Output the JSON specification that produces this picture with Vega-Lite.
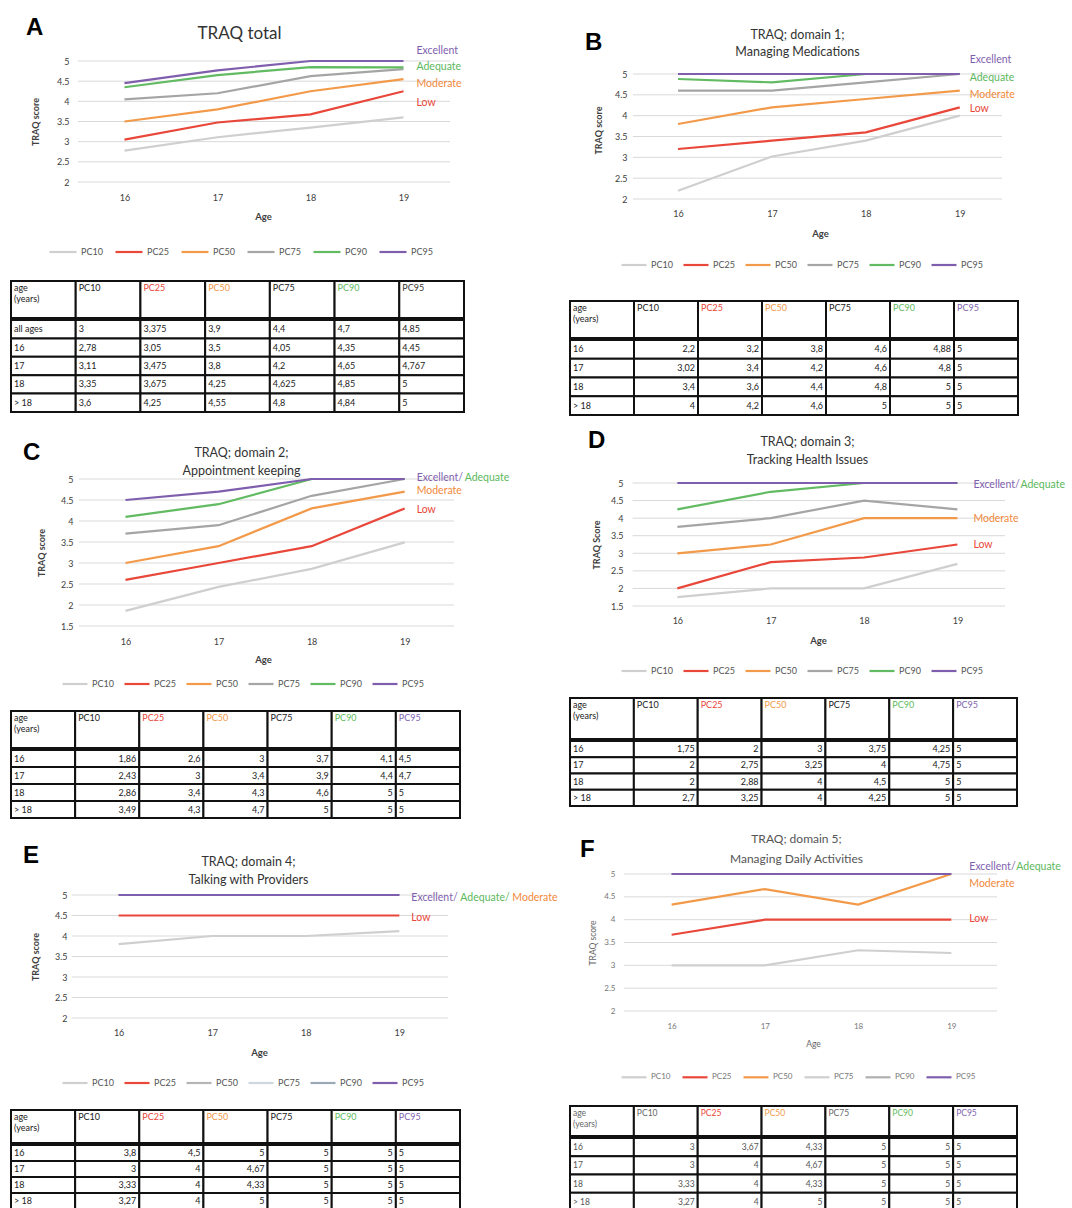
{
"$schema": "https://vega.github.io/schema/vega-lite/v6.json",
"background": "white",
"padding": {"left": 10, "top": 16, "right": 0, "bottom": 0},
"config": {"view": {"stroke": null}, "font": "Lato", "text": {"font": "Lato"}, "axis": {"labelFont": "Lato", "titleFont": "Lato", "labelColor": "#404040", "titleColor": "#404040"}, "legend": {"labelFont": "Lato"}},
"datasets": {
"lines": [
{"p":"A","age":16,"PC10":2.78,"PC25":3.05,"PC50":3.5,"PC75":4.05,"PC90":4.35,"PC95":4.45},
{"p":"A","age":17,"PC10":3.11,"PC25":3.475,"PC50":3.8,"PC75":4.2,"PC90":4.65,"PC95":4.767},
{"p":"A","age":18,"PC10":3.35,"PC25":3.675,"PC50":4.25,"PC75":4.625,"PC90":4.85,"PC95":5},
{"p":"A","age":19,"PC10":3.6,"PC25":4.25,"PC50":4.55,"PC75":4.8,"PC90":4.84,"PC95":5},
{"p":"B","age":16,"PC10":2.2,"PC25":3.2,"PC50":3.8,"PC75":4.6,"PC90":4.88,"PC95":5},
{"p":"B","age":17,"PC10":3.02,"PC25":3.4,"PC50":4.2,"PC75":4.6,"PC90":4.8,"PC95":5},
{"p":"B","age":18,"PC10":3.4,"PC25":3.6,"PC50":4.4,"PC75":4.8,"PC90":5,"PC95":5},
{"p":"B","age":19,"PC10":4,"PC25":4.2,"PC50":4.6,"PC75":5,"PC90":5,"PC95":5},
{"p":"C","age":16,"PC10":1.86,"PC25":2.6,"PC50":3,"PC75":3.7,"PC90":4.1,"PC95":4.5},
{"p":"C","age":17,"PC10":2.43,"PC25":3,"PC50":3.4,"PC75":3.9,"PC90":4.4,"PC95":4.7},
{"p":"C","age":18,"PC10":2.86,"PC25":3.4,"PC50":4.3,"PC75":4.6,"PC90":5,"PC95":5},
{"p":"C","age":19,"PC10":3.49,"PC25":4.3,"PC50":4.7,"PC75":5,"PC90":5,"PC95":5},
{"p":"D","age":16,"PC10":1.75,"PC25":2,"PC50":3,"PC75":3.75,"PC90":4.25,"PC95":5},
{"p":"D","age":17,"PC10":2,"PC25":2.75,"PC50":3.25,"PC75":4,"PC90":4.75,"PC95":5},
{"p":"D","age":18,"PC10":2,"PC25":2.88,"PC50":4,"PC75":4.5,"PC90":5,"PC95":5},
{"p":"D","age":19,"PC10":2.7,"PC25":3.25,"PC50":4,"PC75":4.25,"PC90":5,"PC95":5},
{"p":"E","age":16,"PC10":3.8,"PC25":4.5,"PC50":5,"PC75":5,"PC90":5,"PC95":5},
{"p":"E","age":17,"PC10":4,"PC25":4.5,"PC50":5,"PC75":5,"PC90":5,"PC95":5},
{"p":"E","age":18,"PC10":4,"PC25":4.5,"PC50":5,"PC75":5,"PC90":5,"PC95":5},
{"p":"E","age":19,"PC10":4.12,"PC25":4.5,"PC50":5,"PC75":5,"PC90":5,"PC95":5},
{"p":"F","age":16,"PC10":3,"PC25":3.67,"PC50":4.33,"PC75":5,"PC90":5,"PC95":5},
{"p":"F","age":17,"PC10":3,"PC25":4,"PC50":4.67,"PC75":5,"PC90":5,"PC95":5},
{"p":"F","age":18,"PC10":3.33,"PC25":4,"PC50":4.33,"PC75":5,"PC90":5,"PC95":5},
{"p":"F","age":19,"PC10":3.27,"PC25":4,"PC50":5,"PC75":5,"PC90":5,"PC95":5}
],
"grid": [{"g":1.5},{"g":2},{"g":2.5},{"g":3},{"g":3.5},{"g":4},{"g":4.5},{"g":5}],
"labels": [
{"p":"A","k":1,"t":"Excellent","v":5.25,"pc":"PC95"},
{"p":"A","k":1,"t":"Adequate","v":4.86,"pc":"PC90"},
{"p":"A","k":1,"t":"Moderate","v":4.43,"pc":"PC50"},
{"p":"A","k":1,"t":"Low","v":3.97,"pc":"PC25"},
{"p":"B","k":1,"t":"Excellent","v":5.34,"pc":"PC95"},
{"p":"B","k":1,"t":"Adequate","v":4.9,"pc":"PC90"},
{"p":"B","k":1,"t":"Moderate","v":4.5,"pc":"PC50"},
{"p":"B","k":1,"t":"Low","v":4.16,"pc":"PC25"},
{"p":"C","k":1,"t":"Excellent/","v":5.02,"pc":"PC95"},
{"p":"C","k":2,"t":"Adequate","v":5.02,"pc":"PC90"},
{"p":"C","k":1,"t":"Moderate","v":4.71,"pc":"PC50"},
{"p":"C","k":1,"t":"Low","v":4.26,"pc":"PC25"},
{"p":"D","k":1,"t":"Excellent/","v":4.94,"pc":"PC95"},
{"p":"D","k":2,"t":"Adequate","v":4.94,"pc":"PC90"},
{"p":"D","k":1,"t":"Moderate","v":3.97,"pc":"PC50"},
{"p":"D","k":1,"t":"Low","v":3.23,"pc":"PC25"},
{"p":"E","k":1,"t":"Excellent/","v":4.93,"pc":"PC95"},
{"p":"E","k":2,"t":"Adequate/","v":4.93,"pc":"PC90"},
{"p":"E","k":3,"t":"Moderate","v":4.93,"pc":"PC50"},
{"p":"E","k":1,"t":"Low","v":4.44,"pc":"PC25"},
{"p":"F","k":1,"t":"Excellent/","v":5.15,"pc":"PC95"},
{"p":"F","k":2,"t":"Adequate","v":5.15,"pc":"PC90"},
{"p":"F","k":1,"t":"Moderate","v":4.78,"pc":"PC50"},
{"p":"F","k":1,"t":"Low","v":4.02,"pc":"PC25"}
],
"thead": [{"age":"age (years)","PC10":"PC10","PC25":"PC25","PC50":"PC50","PC75":"PC75","PC90":"PC90","PC95":"PC95"}],
"tbody": [
{"p":"A","age":"all ages","PC10":"3","PC25":"3,375","PC50":"3,9","PC75":"4,4","PC90":"4,7","PC95":"4,85"},
{"p":"A","age":"16","PC10":"2,78","PC25":"3,05","PC50":"3,5","PC75":"4,05","PC90":"4,35","PC95":"4,45"},
{"p":"A","age":"17","PC10":"3,11","PC25":"3,475","PC50":"3,8","PC75":"4,2","PC90":"4,65","PC95":"4,767"},
{"p":"A","age":"18","PC10":"3,35","PC25":"3,675","PC50":"4,25","PC75":"4,625","PC90":"4,85","PC95":"5"},
{"p":"A","age":"> 18","PC10":"3,6","PC25":"4,25","PC50":"4,55","PC75":"4,8","PC90":"4,84","PC95":"5"},
{"p":"B","age":"16","PC10":"2,2","PC25":"3,2","PC50":"3,8","PC75":"4,6","PC90":"4,88","PC95":"5"},
{"p":"B","age":"17","PC10":"3,02","PC25":"3,4","PC50":"4,2","PC75":"4,6","PC90":"4,8","PC95":"5"},
{"p":"B","age":"18","PC10":"3,4","PC25":"3,6","PC50":"4,4","PC75":"4,8","PC90":"5","PC95":"5"},
{"p":"B","age":"> 18","PC10":"4","PC25":"4,2","PC50":"4,6","PC75":"5","PC90":"5","PC95":"5"},
{"p":"C","age":"16","PC10":"1,86","PC25":"2,6","PC50":"3","PC75":"3,7","PC90":"4,1","PC95":"4,5"},
{"p":"C","age":"17","PC10":"2,43","PC25":"3","PC50":"3,4","PC75":"3,9","PC90":"4,4","PC95":"4,7"},
{"p":"C","age":"18","PC10":"2,86","PC25":"3,4","PC50":"4,3","PC75":"4,6","PC90":"5","PC95":"5"},
{"p":"C","age":"> 18","PC10":"3,49","PC25":"4,3","PC50":"4,7","PC75":"5","PC90":"5","PC95":"5"},
{"p":"D","age":"16","PC10":"1,75","PC25":"2","PC50":"3","PC75":"3,75","PC90":"4,25","PC95":"5"},
{"p":"D","age":"17","PC10":"2","PC25":"2,75","PC50":"3,25","PC75":"4","PC90":"4,75","PC95":"5"},
{"p":"D","age":"18","PC10":"2","PC25":"2,88","PC50":"4","PC75":"4,5","PC90":"5","PC95":"5"},
{"p":"D","age":"> 18","PC10":"2,7","PC25":"3,25","PC50":"4","PC75":"4,25","PC90":"5","PC95":"5"},
{"p":"E","age":"16","PC10":"3,8","PC25":"4,5","PC50":"5","PC75":"5","PC90":"5","PC95":"5"},
{"p":"E","age":"17","PC10":"3","PC25":"4","PC50":"4,67","PC75":"5","PC90":"5","PC95":"5"},
{"p":"E","age":"18","PC10":"3,33","PC25":"4","PC50":"4,33","PC75":"5","PC90":"5","PC95":"5"},
{"p":"E","age":"> 18","PC10":"3,27","PC25":"4","PC50":"5","PC75":"5","PC90":"5","PC95":"5"},
{"p":"F","age":"16","PC10":"3","PC25":"3,67","PC50":"4,33","PC75":"5","PC90":"5","PC95":"5"},
{"p":"F","age":"17","PC10":"3","PC25":"4","PC50":"4,67","PC75":"5","PC90":"5","PC95":"5"},
{"p":"F","age":"18","PC10":"3,33","PC25":"4","PC50":"4,33","PC75":"5","PC90":"5","PC95":"5"},
{"p":"F","age":"> 18","PC10":"3,27","PC25":"4","PC50":"5","PC75":"5","PC90":"5","PC95":"5"}
]
},
"columns": 2,
"align": "none",
"spacing": 11,
"resolve": {"scale": {"color": "independent", "fill": "independent"}, "legend": {"color": "independent", "fill": "independent"}},
"concat": [
{
"spacing": 28,
"resolve": {"scale": {"color": "independent", "fill": "independent"}, "legend": {"color": "independent", "fill": "independent"}},
"vconcat": [
{
"spacing": 23,
"resolve": {"scale": {"color": "independent", "fill": "independent"}, "legend": {"color": "independent", "fill": "independent"}},
"vconcat": [
{
"width": 439, "height": 121,
"title": {"text": "A", "anchor": "start", "frame": "group", "dx": 15, "offset": -16, "fontSize": 24, "fontWeight": "bold", "font": "Liberation Sans", "color": "#000"},
"resolve": {"axis": {"x": "independent"}},
"layer": [
{"data": {"name": "grid"}, "transform": [{"filter": "datum.g >= 2"}], "mark": {"type": "rule", "color": "#d9d9d9", "strokeWidth": 1},
"encoding": {
"y": {"field": "g", "type": "quantitative", "scale": {"domain": [2, 5], "nice": false, "zero": false}, "axis": {"orient": "left", "values": [2, 2.5, 3, 3.5, 4, 4.5, 5], "format": "~g", "offset": -60, "labelPadding": 2, "ticks": false, "domain": false, "grid": false, "minExtent": 0, "labelFontSize": 9, "labelFlush": false, "labelOverlap": false, "title": "TRAQ score", "titleFontSize": 9, "titleFontWeight": "bold", "titlePadding": 15.5}},
"x": {"datum": 15.5, "type": "quantitative", "scale": {"domain": [14.78, 19.5], "nice": false, "zero": false}, "axis": null},
"x2": {"datum": 19.5}}},
{"data": {"name": "lines"}, "transform": [{"filter": "datum.p === 'A'"}, {"fold": ["PC10", "PC25", "PC50", "PC75", "PC90", "PC95"], "as": ["pc", "v"]}], "mark": {"type": "line", "strokeWidth": 2.2},
"encoding": {
"x": {"field": "age", "type": "quantitative", "scale": {"domain": [14.78, 19.5], "nice": false, "zero": false}, "axis": {"orient": "bottom", "values": [16, 17, 18, 19], "format": "d", "ticks": false, "domain": false, "grid": false, "labelFontSize": 9, "labelPadding": 11, "labelFlush": false, "title": "Age", "titleFontSize": 9.5, "titleFontWeight": "bold", "titlePadding": 9, "titleX": 252}},
"y": {"field": "v", "type": "quantitative", "scale": {"domain": [2, 5], "nice": false, "zero": false}, "axis": {"orient": "left", "values": [2, 2.5, 3, 3.5, 4, 4.5, 5], "format": "~g", "offset": -60, "labelPadding": 2, "ticks": false, "domain": false, "grid": false, "minExtent": 0, "labelFontSize": 9, "labelFlush": false, "labelOverlap": false, "title": "TRAQ score", "titleFontSize": 9, "titleFontWeight": "bold", "titlePadding": 15.5}},
"color": {"field": "pc", "type": "nominal", "scale": {"domain": ["PC10", "PC25", "PC50", "PC75", "PC90", "PC95"], "range": ["#cfcfcf", "#e8473a", "#f29a4a", "#a5a5a5", "#62bb62", "#7f5fad"]}, "legend": {"orient": "none", "legendX": 37, "legendY": 176, "direction": "horizontal", "columns": 6, "title": null, "symbolType": "stroke", "symbolSize": 729, "symbolStrokeWidth": 2.2, "labelFontSize": 9, "labelOffset": 3, "columnPadding": 8, "padding": 0, "labelColor": "#555"}}}},
{"data": {"name": "labels"}, "transform": [{"filter": "datum.p === 'A'"}], "mark": {"type": "text", "align": "left", "baseline": "middle", "dx": 13, "fontSize": 10.5},
"encoding": {
"x": {"datum": 19, "type": "quantitative", "scale": {"domain": [14.78, 19.5], "nice": false, "zero": false}, "axis": {"orient": "top", "labels": false, "ticks": false, "domain": false, "grid": false, "title": "TRAQ total", "titleFontSize": 17, "titleFontWeight": "normal", "titlePadding": 19, "titleX": 228, "titleColor": "#333"}},
"y": {"field": "v", "type": "quantitative", "scale": {"domain": [2, 5], "nice": false, "zero": false}, "axis": {"orient": "left", "values": [2, 2.5, 3, 3.5, 4, 4.5, 5], "format": "~g", "offset": -60, "labelPadding": 2, "ticks": false, "domain": false, "grid": false, "minExtent": 0, "labelFontSize": 9, "labelFlush": false, "labelOverlap": false, "title": "TRAQ score", "titleFontSize": 9, "titleFontWeight": "bold", "titlePadding": 15.5}},
"text": {"field": "t"},
"fill": {"field": "pc", "type": "nominal", "scale": {"domain": ["PC25", "PC50", "PC90", "PC95"], "range": ["#e8473a", "#f0883a", "#5cb85c", "#7f5fad"]}, "legend": null}}}
]
},
{
"spacing": 0,
"resolve": {"scale": {"color": "independent", "fill": "independent"}, "legend": {"color": "independent", "fill": "independent"}},
"vconcat": [
{"width": 453, "height": 37, "data": {"name": "thead"}, "transform": [{"fold": ["age", "PC10", "PC25", "PC50", "PC75", "PC90", "PC95"], "as": ["col", "val"]}],
"layer": [
{"mark": {"type": "rect", "fill": "white", "stroke": "#111", "strokeWidth": 2}, "encoding": {"x": {"field": "col", "type": "nominal", "sort": ["age", "PC10", "PC25", "PC50", "PC75", "PC90", "PC95"], "axis": null, "scale": {"paddingInner": 0, "paddingOuter": 0}}, "y": {"field": "age", "type": "nominal", "axis": null, "scale": {"paddingInner": 0, "paddingOuter": 0}}}},
{"mark": {"type": "text", "align": "left", "baseline": "top", "dx": 3, "dy": 3, "fontSize": 9, "lineBreak": " "}, "encoding": {"x": {"field": "col", "type": "nominal", "sort": ["age", "PC10", "PC25", "PC50", "PC75", "PC90", "PC95"], "axis": null, "bandPosition": 0}, "y": {"field": "age", "type": "nominal", "axis": null, "bandPosition": 0}, "text": {"field": "val"}, "color": {"field": "col", "type": "nominal", "scale": {"domain": ["age", "PC10", "PC25", "PC50", "PC75", "PC90", "PC95"], "range": ["#222", "#222", "#e8473a", "#f29a4a", "#222", "#62bb62", "#333"]}, "legend": null}}}
]},
{"width": 453, "height": 92, "data": {"name": "tbody"}, "transform": [{"filter": "datum.p === 'A'"}, {"fold": ["age", "PC10", "PC25", "PC50", "PC75", "PC90", "PC95"], "as": ["col", "val"]}],
"layer": [
{"mark": {"type": "rect", "fill": "white", "stroke": "#111", "strokeWidth": 2}, "encoding": {"x": {"field": "col", "type": "nominal", "sort": ["age", "PC10", "PC25", "PC50", "PC75", "PC90", "PC95"], "axis": null, "scale": {"paddingInner": 0, "paddingOuter": 0}}, "y": {"field": "age", "type": "nominal", "sort": ["all ages", "16", "17", "18", "> 18"], "axis": null, "scale": {"paddingInner": 0, "paddingOuter": 0}}}},
{"mark": {"type": "text", "align": "left", "baseline": "middle", "dx": 3, "fontSize": 9, "color": "#222"}, "encoding": {"x": {"field": "col", "type": "nominal", "sort": ["age", "PC10", "PC25", "PC50", "PC75", "PC90", "PC95"], "axis": null, "bandPosition": 0}, "y": {"field": "age", "type": "nominal", "sort": ["all ages", "16", "17", "18", "> 18"], "axis": null, "bandPosition": 0.5}, "text": {"field": "val"}}}
]}
]
}
]
},
{
"spacing": 25,
"resolve": {"scale": {"color": "independent", "fill": "independent"}, "legend": {"color": "independent", "fill": "independent"}},
"vconcat": [
{
"spacing": 21,
"resolve": {"scale": {"color": "independent", "fill": "independent"}, "legend": {"color": "independent", "fill": "independent"}},
"vconcat": [
{
"width": 443, "height": 147,
"title": {"text": "C", "anchor": "start", "frame": "group", "dx": 12, "offset": -19, "fontSize": 24, "fontWeight": "bold", "font": "Liberation Sans", "color": "#000"},
"resolve": {"axis": {"x": "independent"}},
"layer": [
{"data": {"name": "grid"}, "mark": {"type": "rule", "color": "#d9d9d9", "strokeWidth": 1},
"encoding": {
"y": {"field": "g", "type": "quantitative", "scale": {"domain": [1.5, 5], "nice": false, "zero": false}, "axis": {"orient": "left", "values": [1.5, 2, 2.5, 3, 3.5, 4, 4.5, 5], "format": "~g", "offset": -64, "labelPadding": 2, "ticks": false, "domain": false, "grid": false, "minExtent": 0, "labelFontSize": 9, "labelFlush": false, "labelOverlap": false, "title": "TRAQ score", "titleFontSize": 9, "titleFontWeight": "bold", "titlePadding": 13.5}},
"x": {"datum": 15.5, "type": "quantitative", "scale": {"domain": [14.77, 19.53], "nice": false, "zero": false}, "axis": null},
"x2": {"datum": 19.53}}},
{"data": {"name": "lines"}, "transform": [{"filter": "datum.p === 'C'"}, {"fold": ["PC10", "PC25", "PC50", "PC75", "PC90", "PC95"], "as": ["pc", "v"]}], "mark": {"type": "line", "strokeWidth": 2.2},
"encoding": {
"x": {"field": "age", "type": "quantitative", "scale": {"domain": [14.77, 19.53], "nice": false, "zero": false}, "axis": {"orient": "bottom", "values": [16, 17, 18, 19], "format": "d", "ticks": false, "domain": false, "grid": false, "labelFontSize": 9, "labelPadding": 11, "labelFlush": false, "title": "Age", "titleFontSize": 9.5, "titleFontWeight": "bold", "titlePadding": 8, "titleX": 252}},
"y": {"field": "v", "type": "quantitative", "scale": {"domain": [1.5, 5], "nice": false, "zero": false}, "axis": {"orient": "left", "values": [1.5, 2, 2.5, 3, 3.5, 4, 4.5, 5], "format": "~g", "offset": -64, "labelPadding": 2, "ticks": false, "domain": false, "grid": false, "minExtent": 0, "labelFontSize": 9, "labelFlush": false, "labelOverlap": false, "title": "TRAQ score", "titleFontSize": 9, "titleFontWeight": "bold", "titlePadding": 13.5}},
"color": {"field": "pc", "type": "nominal", "scale": {"domain": ["PC10", "PC25", "PC50", "PC75", "PC90", "PC95"], "range": ["#cfcfcf", "#e8473a", "#f29a4a", "#a5a5a5", "#62bb62", "#7f5fad"]}, "legend": {"orient": "none", "legendX": 50, "legendY": 191, "direction": "horizontal", "columns": 6, "title": null, "symbolType": "stroke", "symbolSize": 625, "symbolStrokeWidth": 2.2, "labelFontSize": 9, "labelOffset": 3, "columnPadding": 6, "padding": 0, "labelColor": "#555"}}}},
{"data": {"name": "labels"}, "transform": [{"filter": "datum.p === 'C' && datum.k === 1"}], "mark": {"type": "text", "align": "left", "baseline": "middle", "dx": 12, "fontSize": 10.5},
"encoding": {
"x": {"datum": 19, "type": "quantitative", "scale": {"domain": [14.77, 19.53], "nice": false, "zero": false}, "axis": {"orient": "top", "labels": false, "ticks": false, "domain": false, "grid": false, "title": ["TRAQ; domain 2;", "Appointment keeping"], "titleFontSize": 12.5, "titleLineHeight": 18, "titleFontWeight": "normal", "titlePadding": 2, "titleX": 230, "titleColor": "#333"}},
"y": {"field": "v", "type": "quantitative", "scale": {"domain": [1.5, 5], "nice": false, "zero": false}, "axis": {"orient": "left", "values": [1.5, 2, 2.5, 3, 3.5, 4, 4.5, 5], "format": "~g", "offset": -64, "labelPadding": 2, "ticks": false, "domain": false, "grid": false, "minExtent": 0, "labelFontSize": 9, "labelFlush": false, "labelOverlap": false, "title": "TRAQ score", "titleFontSize": 9, "titleFontWeight": "bold", "titlePadding": 13.5}},
"text": {"field": "t"},
"fill": {"field": "pc", "type": "nominal", "scale": {"domain": ["PC25", "PC50", "PC90", "PC95"], "range": ["#e8473a", "#f0883a", "#5cb85c", "#7f5fad"]}, "legend": null}}},
{"data": {"name": "labels"}, "transform": [{"filter": "datum.p === 'C' && datum.k === 2"}], "mark": {"type": "text", "align": "left", "baseline": "middle", "dx": 60, "fontSize": 10.5},
"encoding": {
"x": {"datum": 19, "type": "quantitative", "scale": {"domain": [14.77, 19.53], "nice": false, "zero": false}, "axis": null},
"y": {"field": "v", "type": "quantitative", "scale": {"domain": [1.5, 5], "nice": false, "zero": false}, "axis": {"orient": "left", "values": [1.5, 2, 2.5, 3, 3.5, 4, 4.5, 5], "format": "~g", "offset": -64, "labelPadding": 2, "ticks": false, "domain": false, "grid": false, "minExtent": 0, "labelFontSize": 9, "labelFlush": false, "labelOverlap": false, "title": "TRAQ score", "titleFontSize": 9, "titleFontWeight": "bold", "titlePadding": 13.5}},
"text": {"field": "t"},
"fill": {"field": "pc", "type": "nominal", "scale": {"domain": ["PC25", "PC50", "PC90", "PC95"], "range": ["#e8473a", "#f0883a", "#5cb85c", "#7f5fad"]}, "legend": null}}}
]
},
{
"spacing": 0,
"resolve": {"scale": {"color": "independent", "fill": "independent"}, "legend": {"color": "independent", "fill": "independent"}},
"vconcat": [
{"width": 449, "height": 37, "data": {"name": "thead"}, "transform": [{"fold": ["age", "PC10", "PC25", "PC50", "PC75", "PC90", "PC95"], "as": ["col", "val"]}],
"layer": [
{"mark": {"type": "rect", "fill": "white", "stroke": "#111", "strokeWidth": 2}, "encoding": {"x": {"field": "col", "type": "nominal", "sort": ["age", "PC10", "PC25", "PC50", "PC75", "PC90", "PC95"], "axis": null, "scale": {"paddingInner": 0, "paddingOuter": 0}}, "y": {"field": "age", "type": "nominal", "axis": null, "scale": {"paddingInner": 0, "paddingOuter": 0}}}},
{"mark": {"type": "text", "align": "left", "baseline": "top", "dx": 3, "dy": 3, "fontSize": 9, "lineBreak": " "}, "encoding": {"x": {"field": "col", "type": "nominal", "sort": ["age", "PC10", "PC25", "PC50", "PC75", "PC90", "PC95"], "axis": null, "bandPosition": 0}, "y": {"field": "age", "type": "nominal", "axis": null, "bandPosition": 0}, "text": {"field": "val"}, "color": {"field": "col", "type": "nominal", "scale": {"domain": ["age", "PC10", "PC25", "PC50", "PC75", "PC90", "PC95"], "range": ["#222", "#222", "#e8473a", "#f29a4a", "#222", "#62bb62", "#8064b0"]}, "legend": null}}}
]},
{"width": 449, "height": 68, "data": {"name": "tbody"}, "transform": [{"filter": "datum.p === 'C'"}, {"fold": ["age", "PC10", "PC25", "PC50", "PC75", "PC90", "PC95"], "as": ["col", "val"]}],
"layer": [
{"mark": {"type": "rect", "fill": "white", "stroke": "#111", "strokeWidth": 2}, "encoding": {"x": {"field": "col", "type": "nominal", "sort": ["age", "PC10", "PC25", "PC50", "PC75", "PC90", "PC95"], "axis": null, "scale": {"paddingInner": 0, "paddingOuter": 0}}, "y": {"field": "age", "type": "nominal", "sort": ["16", "17", "18", "> 18"], "axis": null, "scale": {"paddingInner": 0, "paddingOuter": 0}}}},
{"transform": [{"filter": "datum.col === 'age' || datum.col === 'PC95'"}], "mark": {"type": "text", "align": "left", "baseline": "middle", "dx": 3, "fontSize": 9, "color": "#222"}, "encoding": {"x": {"field": "col", "type": "nominal", "sort": ["age", "PC10", "PC25", "PC50", "PC75", "PC90", "PC95"], "axis": null, "bandPosition": 0}, "y": {"field": "age", "type": "nominal", "sort": ["16", "17", "18", "> 18"], "axis": null, "bandPosition": 0.5}, "text": {"field": "val"}}},
{"transform": [{"filter": "datum.col !== 'age' && datum.col !== 'PC95'"}], "mark": {"type": "text", "align": "right", "baseline": "middle", "dx": -3, "fontSize": 9, "color": "#222"}, "encoding": {"x": {"field": "col", "type": "nominal", "sort": ["age", "PC10", "PC25", "PC50", "PC75", "PC90", "PC95"], "axis": null, "bandPosition": 1}, "y": {"field": "age", "type": "nominal", "sort": ["16", "17", "18", "> 18"], "axis": null, "bandPosition": 0.5}, "text": {"field": "val"}}}
]}
]
}
]
},
{
"spacing": 21,
"resolve": {"scale": {"color": "independent", "fill": "independent"}, "legend": {"color": "independent", "fill": "independent"}},
"vconcat": [
{
"width": 437, "height": 123,
"title": {"text": "E", "anchor": "start", "frame": "group", "dx": 12, "offset": -13, "fontSize": 24, "fontWeight": "bold", "font": "Liberation Sans", "color": "#000"},
"resolve": {"axis": {"x": "independent"}},
"layer": [
{"data": {"name": "grid"}, "transform": [{"filter": "datum.g >= 2"}], "mark": {"type": "rule", "color": "#d9d9d9", "strokeWidth": 1},
"encoding": {
"y": {"field": "g", "type": "quantitative", "scale": {"domain": [2, 5], "nice": false, "zero": false}, "axis": {"orient": "left", "values": [2, 2.5, 3, 3.5, 4, 4.5, 5], "format": "~g", "offset": -58, "labelPadding": 2, "ticks": false, "domain": false, "grid": false, "minExtent": 0, "labelFontSize": 9, "labelFlush": false, "labelOverlap": false, "title": "TRAQ score", "titleFontSize": 9, "titleFontWeight": "bold", "titlePadding": 13.5}},
"x": {"datum": 15.5, "type": "quantitative", "scale": {"domain": [14.85, 19.52], "nice": false, "zero": false}, "axis": null},
"x2": {"datum": 19.52}}},
{"data": {"name": "lines"}, "transform": [{"filter": "datum.p === 'E'"}, {"fold": ["PC10", "PC25", "PC50", "PC75", "PC90", "PC95"], "as": ["pc", "v"]}], "mark": {"type": "line", "strokeWidth": 2.2},
"encoding": {
"x": {"field": "age", "type": "quantitative", "scale": {"domain": [14.85, 19.52], "nice": false, "zero": false}, "axis": {"orient": "bottom", "values": [16, 17, 18, 19], "format": "d", "ticks": false, "domain": false, "grid": false, "labelFontSize": 9, "labelPadding": 10, "labelFlush": false, "title": "Age", "titleFontSize": 9.5, "titleFontWeight": "bold", "titlePadding": 10, "titleX": 248}},
"y": {"field": "v", "type": "quantitative", "scale": {"domain": [2, 5], "nice": false, "zero": false}, "axis": {"orient": "left", "values": [2, 2.5, 3, 3.5, 4, 4.5, 5], "format": "~g", "offset": -58, "labelPadding": 2, "ticks": false, "domain": false, "grid": false, "minExtent": 0, "labelFontSize": 9, "labelFlush": false, "labelOverlap": false, "title": "TRAQ score", "titleFontSize": 9, "titleFontWeight": "bold", "titlePadding": 13.5}},
"color": {"field": "pc", "type": "nominal", "scale": {"domain": ["PC10", "PC25", "PC50", "PC75", "PC90", "PC95"], "range": ["#cfcfcf", "#e8473a", "#b5b5b5", "#cfd6dd", "#9aa8b8", "#7f5fad"]}, "legend": {"orient": "none", "legendX": 50, "legendY": 174, "direction": "horizontal", "columns": 6, "title": null, "symbolType": "stroke", "symbolSize": 625, "symbolStrokeWidth": 2.2, "labelFontSize": 9, "labelOffset": 3, "columnPadding": 6, "padding": 0, "labelColor": "#555"}}}},
{"data": {"name": "labels"}, "transform": [{"filter": "datum.p === 'E' && datum.k === 1"}], "mark": {"type": "text", "align": "left", "baseline": "middle", "dx": 12, "fontSize": 10.5},
"encoding": {
"x": {"datum": 19, "type": "quantitative", "scale": {"domain": [14.85, 19.52], "nice": false, "zero": false}, "axis": {"orient": "top", "labels": false, "ticks": false, "domain": false, "grid": false, "title": ["TRAQ; domain 4;", "Talking with Providers"], "titleFontSize": 12.5, "titleLineHeight": 18, "titleFontWeight": "normal", "titlePadding": 9, "titleX": 237, "titleColor": "#333"}},
"y": {"field": "v", "type": "quantitative", "scale": {"domain": [2, 5], "nice": false, "zero": false}, "axis": {"orient": "left", "values": [2, 2.5, 3, 3.5, 4, 4.5, 5], "format": "~g", "offset": -58, "labelPadding": 2, "ticks": false, "domain": false, "grid": false, "minExtent": 0, "labelFontSize": 9, "labelFlush": false, "labelOverlap": false, "title": "TRAQ score", "titleFontSize": 9, "titleFontWeight": "bold", "titlePadding": 13.5}},
"text": {"field": "t"},
"fill": {"field": "pc", "type": "nominal", "scale": {"domain": ["PC25", "PC50", "PC90", "PC95"], "range": ["#e8473a", "#f0883a", "#5cb85c", "#7f5fad"]}, "legend": null}}},
{"data": {"name": "labels"}, "transform": [{"filter": "datum.p === 'E' && datum.k === 2"}], "mark": {"type": "text", "align": "left", "baseline": "middle", "dx": 61, "fontSize": 10.5},
"encoding": {
"x": {"datum": 19, "type": "quantitative", "scale": {"domain": [14.85, 19.52], "nice": false, "zero": false}, "axis": null},
"y": {"field": "v", "type": "quantitative", "scale": {"domain": [2, 5], "nice": false, "zero": false}, "axis": {"orient": "left", "values": [2, 2.5, 3, 3.5, 4, 4.5, 5], "format": "~g", "offset": -58, "labelPadding": 2, "ticks": false, "domain": false, "grid": false, "minExtent": 0, "labelFontSize": 9, "labelFlush": false, "labelOverlap": false, "title": "TRAQ score", "titleFontSize": 9, "titleFontWeight": "bold", "titlePadding": 13.5}},
"text": {"field": "t"},
"fill": {"field": "pc", "type": "nominal", "scale": {"domain": ["PC25", "PC50", "PC90", "PC95"], "range": ["#e8473a", "#f0883a", "#5cb85c", "#7f5fad"]}, "legend": null}}},
{"data": {"name": "labels"}, "transform": [{"filter": "datum.p === 'E' && datum.k === 3"}], "mark": {"type": "text", "align": "left", "baseline": "middle", "dx": 113, "fontSize": 10.5},
"encoding": {
"x": {"datum": 19, "type": "quantitative", "scale": {"domain": [14.85, 19.52], "nice": false, "zero": false}, "axis": null},
"y": {"field": "v", "type": "quantitative", "scale": {"domain": [2, 5], "nice": false, "zero": false}, "axis": {"orient": "left", "values": [2, 2.5, 3, 3.5, 4, 4.5, 5], "format": "~g", "offset": -58, "labelPadding": 2, "ticks": false, "domain": false, "grid": false, "minExtent": 0, "labelFontSize": 9, "labelFlush": false, "labelOverlap": false, "title": "TRAQ score", "titleFontSize": 9, "titleFontWeight": "bold", "titlePadding": 13.5}},
"text": {"field": "t"},
"fill": {"field": "pc", "type": "nominal", "scale": {"domain": ["PC25", "PC50", "PC90", "PC95"], "range": ["#e8473a", "#f0883a", "#5cb85c", "#7f5fad"]}, "legend": null}}}
]
},
{
"spacing": 0,
"resolve": {"scale": {"color": "independent", "fill": "independent"}, "legend": {"color": "independent", "fill": "independent"}},
"vconcat": [
{"width": 449, "height": 33, "data": {"name": "thead"}, "transform": [{"fold": ["age", "PC10", "PC25", "PC50", "PC75", "PC90", "PC95"], "as": ["col", "val"]}],
"layer": [
{"mark": {"type": "rect", "fill": "white", "stroke": "#111", "strokeWidth": 2}, "encoding": {"x": {"field": "col", "type": "nominal", "sort": ["age", "PC10", "PC25", "PC50", "PC75", "PC90", "PC95"], "axis": null, "scale": {"paddingInner": 0, "paddingOuter": 0}}, "y": {"field": "age", "type": "nominal", "axis": null, "scale": {"paddingInner": 0, "paddingOuter": 0}}}},
{"mark": {"type": "text", "align": "left", "baseline": "top", "dx": 3, "dy": 3, "fontSize": 9, "lineBreak": " "}, "encoding": {"x": {"field": "col", "type": "nominal", "sort": ["age", "PC10", "PC25", "PC50", "PC75", "PC90", "PC95"], "axis": null, "bandPosition": 0}, "y": {"field": "age", "type": "nominal", "axis": null, "bandPosition": 0}, "text": {"field": "val"}, "color": {"field": "col", "type": "nominal", "scale": {"domain": ["age", "PC10", "PC25", "PC50", "PC75", "PC90", "PC95"], "range": ["#222", "#222", "#e8473a", "#f29a4a", "#222", "#62bb62", "#8064b0"]}, "legend": null}}}
]},
{"width": 449, "height": 64, "data": {"name": "tbody"}, "transform": [{"filter": "datum.p === 'E'"}, {"fold": ["age", "PC10", "PC25", "PC50", "PC75", "PC90", "PC95"], "as": ["col", "val"]}],
"layer": [
{"mark": {"type": "rect", "fill": "white", "stroke": "#111", "strokeWidth": 2}, "encoding": {"x": {"field": "col", "type": "nominal", "sort": ["age", "PC10", "PC25", "PC50", "PC75", "PC90", "PC95"], "axis": null, "scale": {"paddingInner": 0, "paddingOuter": 0}}, "y": {"field": "age", "type": "nominal", "sort": ["16", "17", "18", "> 18"], "axis": null, "scale": {"paddingInner": 0, "paddingOuter": 0}}}},
{"transform": [{"filter": "datum.col === 'age' || datum.col === 'PC95'"}], "mark": {"type": "text", "align": "left", "baseline": "middle", "dx": 3, "fontSize": 9, "color": "#222"}, "encoding": {"x": {"field": "col", "type": "nominal", "sort": ["age", "PC10", "PC25", "PC50", "PC75", "PC90", "PC95"], "axis": null, "bandPosition": 0}, "y": {"field": "age", "type": "nominal", "sort": ["16", "17", "18", "> 18"], "axis": null, "bandPosition": 0.5}, "text": {"field": "val"}}},
{"transform": [{"filter": "datum.col !== 'age' && datum.col !== 'PC95'"}], "mark": {"type": "text", "align": "right", "baseline": "middle", "dx": -3, "fontSize": 9, "color": "#222"}, "encoding": {"x": {"field": "col", "type": "nominal", "sort": ["age", "PC10", "PC25", "PC50", "PC75", "PC90", "PC95"], "axis": null, "bandPosition": 1}, "y": {"field": "age", "type": "nominal", "sort": ["16", "17", "18", "> 18"], "axis": null, "bandPosition": 0.5}, "text": {"field": "val"}}}
]}
]
}
]
}
]
}
]
},
{
"spacing": 13,
"resolve": {"scale": {"color": "independent", "fill": "independent"}, "legend": {"color": "independent", "fill": "independent"}},
"vconcat": [
{
"spacing": 30,
"resolve": {"scale": {"color": "independent", "fill": "independent"}, "legend": {"color": "independent", "fill": "independent"}},
"vconcat": [
{
"width": 432, "height": 138,
"title": {"text": "B", "anchor": "start", "frame": "group", "dx": 15, "offset": -27, "fontSize": 24, "fontWeight": "bold", "font": "Liberation Sans", "color": "#000"},
"resolve": {"axis": {"x": "independent"}},
"layer": [
{"data": {"name": "grid"}, "transform": [{"filter": "datum.g >= 2"}], "mark": {"type": "rule", "color": "#d9d9d9", "strokeWidth": 1},
"encoding": {
"y": {"field": "g", "type": "quantitative", "scale": {"domain": [2, 5.312], "nice": false, "zero": false}, "axis": {"orient": "left", "values": [2, 2.5, 3, 3.5, 4, 4.5, 5], "format": "~g", "offset": -59, "labelPadding": 2, "ticks": false, "domain": false, "grid": false, "minExtent": 0, "labelFontSize": 9, "labelFlush": false, "labelOverlap": false, "title": "TRAQ score", "titleFontSize": 9, "titleFontWeight": "bold", "titlePadding": 10.5}},
"x": {"datum": 15.52, "type": "quantitative", "scale": {"domain": [14.85, 19.45], "nice": false, "zero": false}, "axis": null},
"x2": {"datum": 19.45}}},
{"data": {"name": "lines"}, "transform": [{"filter": "datum.p === 'B'"}, {"fold": ["PC10", "PC25", "PC50", "PC75", "PC90", "PC95"], "as": ["pc", "v"]}], "mark": {"type": "line", "strokeWidth": 2.2},
"encoding": {
"x": {"field": "age", "type": "quantitative", "scale": {"domain": [14.85, 19.45], "nice": false, "zero": false}, "axis": {"orient": "bottom", "values": [16, 17, 18, 19], "format": "d", "ticks": false, "domain": false, "grid": false, "labelFontSize": 9, "labelPadding": 10, "labelFlush": false, "title": "Age", "titleFontSize": 9.5, "titleFontWeight": "bold", "titlePadding": 10, "titleX": 250}},
"y": {"field": "v", "type": "quantitative", "scale": {"domain": [2, 5.312], "nice": false, "zero": false}, "axis": {"orient": "left", "values": [2, 2.5, 3, 3.5, 4, 4.5, 5], "format": "~g", "offset": -59, "labelPadding": 2, "ticks": false, "domain": false, "grid": false, "minExtent": 0, "labelFontSize": 9, "labelFlush": false, "labelOverlap": false, "title": "TRAQ score", "titleFontSize": 9, "titleFontWeight": "bold", "titlePadding": 10.5}},
"color": {"field": "pc", "type": "nominal", "scale": {"domain": ["PC10", "PC25", "PC50", "PC75", "PC90", "PC95"], "range": ["#cfcfcf", "#e8473a", "#f29a4a", "#a5a5a5", "#62bb62", "#7f5fad"]}, "legend": {"orient": "none", "legendX": 50, "legendY": 190, "direction": "horizontal", "columns": 6, "title": null, "symbolType": "stroke", "symbolSize": 625, "symbolStrokeWidth": 2.2, "labelFontSize": 9, "labelOffset": 3, "columnPadding": 6, "padding": 0, "labelColor": "#555"}}}},
{"data": {"name": "labels"}, "transform": [{"filter": "datum.p === 'B'"}], "mark": {"type": "text", "align": "left", "baseline": "middle", "dx": 10, "fontSize": 10.5},
"encoding": {
"x": {"datum": 19, "type": "quantitative", "scale": {"domain": [14.85, 19.45], "nice": false, "zero": false}, "axis": {"orient": "top", "labels": false, "ticks": false, "domain": false, "grid": false, "title": ["TRAQ; domain 1;", "Managing Medications"], "titleFontSize": 12.5, "titleLineHeight": 17, "titleFontWeight": "normal", "titlePadding": 3, "titleX": 227, "titleColor": "#333"}},
"y": {"field": "v", "type": "quantitative", "scale": {"domain": [2, 5.312], "nice": false, "zero": false}, "axis": {"orient": "left", "values": [2, 2.5, 3, 3.5, 4, 4.5, 5], "format": "~g", "offset": -59, "labelPadding": 2, "ticks": false, "domain": false, "grid": false, "minExtent": 0, "labelFontSize": 9, "labelFlush": false, "labelOverlap": false, "title": "TRAQ score", "titleFontSize": 9, "titleFontWeight": "bold", "titlePadding": 10.5}},
"text": {"field": "t"},
"fill": {"field": "pc", "type": "nominal", "scale": {"domain": ["PC25", "PC50", "PC90", "PC95"], "range": ["#e8473a", "#f0883a", "#5cb85c", "#7f5fad"]}, "legend": null}}}
]
},
{
"spacing": 0,
"resolve": {"scale": {"color": "independent", "fill": "independent"}, "legend": {"color": "independent", "fill": "independent"}},
"vconcat": [
{"width": 448, "height": 37, "data": {"name": "thead"}, "transform": [{"fold": ["age", "PC10", "PC25", "PC50", "PC75", "PC90", "PC95"], "as": ["col", "val"]}],
"layer": [
{"mark": {"type": "rect", "fill": "white", "stroke": "#111", "strokeWidth": 2}, "encoding": {"x": {"field": "col", "type": "nominal", "sort": ["age", "PC10", "PC25", "PC50", "PC75", "PC90", "PC95"], "axis": null, "scale": {"paddingInner": 0, "paddingOuter": 0}}, "y": {"field": "age", "type": "nominal", "axis": null, "scale": {"paddingInner": 0, "paddingOuter": 0}}}},
{"mark": {"type": "text", "align": "left", "baseline": "top", "dx": 3, "dy": 3, "fontSize": 9, "lineBreak": " "}, "encoding": {"x": {"field": "col", "type": "nominal", "sort": ["age", "PC10", "PC25", "PC50", "PC75", "PC90", "PC95"], "axis": null, "bandPosition": 0}, "y": {"field": "age", "type": "nominal", "axis": null, "bandPosition": 0}, "text": {"field": "val"}, "color": {"field": "col", "type": "nominal", "scale": {"domain": ["age", "PC10", "PC25", "PC50", "PC75", "PC90", "PC95"], "range": ["#222", "#222", "#e8473a", "#f29a4a", "#222", "#62bb62", "#8064b0"]}, "legend": null}}}
]},
{"width": 448, "height": 75, "data": {"name": "tbody"}, "transform": [{"filter": "datum.p === 'B'"}, {"fold": ["age", "PC10", "PC25", "PC50", "PC75", "PC90", "PC95"], "as": ["col", "val"]}],
"layer": [
{"mark": {"type": "rect", "fill": "white", "stroke": "#111", "strokeWidth": 2}, "encoding": {"x": {"field": "col", "type": "nominal", "sort": ["age", "PC10", "PC25", "PC50", "PC75", "PC90", "PC95"], "axis": null, "scale": {"paddingInner": 0, "paddingOuter": 0}}, "y": {"field": "age", "type": "nominal", "sort": ["16", "17", "18", "> 18"], "axis": null, "scale": {"paddingInner": 0, "paddingOuter": 0}}}},
{"transform": [{"filter": "datum.col === 'age' || datum.col === 'PC95'"}], "mark": {"type": "text", "align": "left", "baseline": "middle", "dx": 3, "fontSize": 9, "color": "#222"}, "encoding": {"x": {"field": "col", "type": "nominal", "sort": ["age", "PC10", "PC25", "PC50", "PC75", "PC90", "PC95"], "axis": null, "bandPosition": 0}, "y": {"field": "age", "type": "nominal", "sort": ["16", "17", "18", "> 18"], "axis": null, "bandPosition": 0.5}, "text": {"field": "val"}}},
{"transform": [{"filter": "datum.col !== 'age' && datum.col !== 'PC95'"}], "mark": {"type": "text", "align": "right", "baseline": "middle", "dx": -3, "fontSize": 9, "color": "#222"}, "encoding": {"x": {"field": "col", "type": "nominal", "sort": ["age", "PC10", "PC25", "PC50", "PC75", "PC90", "PC95"], "axis": null, "bandPosition": 1}, "y": {"field": "age", "type": "nominal", "sort": ["16", "17", "18", "> 18"], "axis": null, "bandPosition": 0.5}, "text": {"field": "val"}}}
]}
]
}
]
},
{
"spacing": 25,
"resolve": {"scale": {"color": "independent", "fill": "independent"}, "legend": {"color": "independent", "fill": "independent"}},
"vconcat": [
{
"spacing": 21,
"resolve": {"scale": {"color": "independent", "fill": "independent"}, "legend": {"color": "independent", "fill": "independent"}},
"vconcat": [
{
"width": 435, "height": 123,
"title": {"text": "D", "anchor": "start", "frame": "group", "dx": 18, "offset": -18, "fontSize": 24, "fontWeight": "bold", "font": "Liberation Sans", "color": "#000"},
"resolve": {"axis": {"x": "independent"}},
"layer": [
{"data": {"name": "grid"}, "mark": {"type": "rule", "color": "#d9d9d9", "strokeWidth": 1},
"encoding": {
"y": {"field": "g", "type": "quantitative", "scale": {"domain": [1.5, 5], "nice": false, "zero": false}, "axis": {"orient": "left", "values": [1.5, 2, 2.5, 3, 3.5, 4, 4.5, 5], "format": "~g", "offset": -55, "labelPadding": 2, "ticks": false, "domain": false, "grid": false, "minExtent": 0, "labelFontSize": 9, "labelFlush": false, "labelOverlap": false, "title": "TRAQ Score", "titleFontSize": 9, "titleFontWeight": "bold", "titlePadding": 8.5}},
"x": {"datum": 15.52, "type": "quantitative", "scale": {"domain": [14.85, 19.51], "nice": false, "zero": false}, "axis": null},
"x2": {"datum": 19.51}}},
{"data": {"name": "lines"}, "transform": [{"filter": "datum.p === 'D'"}, {"fold": ["PC10", "PC25", "PC50", "PC75", "PC90", "PC95"], "as": ["pc", "v"]}], "mark": {"type": "line", "strokeWidth": 2.2},
"encoding": {
"x": {"field": "age", "type": "quantitative", "scale": {"domain": [14.85, 19.51], "nice": false, "zero": false}, "axis": {"orient": "bottom", "values": [16, 17, 18, 19], "format": "d", "ticks": false, "domain": false, "grid": false, "labelFontSize": 9, "labelPadding": 10, "labelFlush": false, "title": "Age", "titleFontSize": 9.5, "titleFontWeight": "bold", "titlePadding": 10, "titleX": 248}},
"y": {"field": "v", "type": "quantitative", "scale": {"domain": [1.5, 5], "nice": false, "zero": false}, "axis": {"orient": "left", "values": [1.5, 2, 2.5, 3, 3.5, 4, 4.5, 5], "format": "~g", "offset": -55, "labelPadding": 2, "ticks": false, "domain": false, "grid": false, "minExtent": 0, "labelFontSize": 9, "labelFlush": false, "labelOverlap": false, "title": "TRAQ Score", "titleFontSize": 9, "titleFontWeight": "bold", "titlePadding": 8.5}},
"color": {"field": "pc", "type": "nominal", "scale": {"domain": ["PC10", "PC25", "PC50", "PC75", "PC90", "PC95"], "range": ["#cfcfcf", "#e8473a", "#f29a4a", "#a5a5a5", "#62bb62", "#7f5fad"]}, "legend": {"orient": "none", "legendX": 50, "legendY": 174, "direction": "horizontal", "columns": 6, "title": null, "symbolType": "stroke", "symbolSize": 625, "symbolStrokeWidth": 2.2, "labelFontSize": 9, "labelOffset": 3, "columnPadding": 6, "padding": 0, "labelColor": "#555"}}}},
{"data": {"name": "labels"}, "transform": [{"filter": "datum.p === 'D' && datum.k === 1"}], "mark": {"type": "text", "align": "left", "baseline": "middle", "dx": 16, "fontSize": 10.5},
"encoding": {
"x": {"datum": 19, "type": "quantitative", "scale": {"domain": [14.85, 19.51], "nice": false, "zero": false}, "axis": {"orient": "top", "labels": false, "ticks": false, "domain": false, "grid": false, "title": ["TRAQ; domain 3;", "Tracking Health Issues"], "titleFontSize": 12.5, "titleLineHeight": 18, "titleFontWeight": "normal", "titlePadding": 17, "titleX": 237, "titleColor": "#333"}},
"y": {"field": "v", "type": "quantitative", "scale": {"domain": [1.5, 5], "nice": false, "zero": false}, "axis": {"orient": "left", "values": [1.5, 2, 2.5, 3, 3.5, 4, 4.5, 5], "format": "~g", "offset": -55, "labelPadding": 2, "ticks": false, "domain": false, "grid": false, "minExtent": 0, "labelFontSize": 9, "labelFlush": false, "labelOverlap": false, "title": "TRAQ Score", "titleFontSize": 9, "titleFontWeight": "bold", "titlePadding": 8.5}},
"text": {"field": "t"},
"fill": {"field": "pc", "type": "nominal", "scale": {"domain": ["PC25", "PC50", "PC90", "PC95"], "range": ["#e8473a", "#f0883a", "#5cb85c", "#7f5fad"]}, "legend": null}}},
{"data": {"name": "labels"}, "transform": [{"filter": "datum.p === 'D' && datum.k === 2"}], "mark": {"type": "text", "align": "left", "baseline": "middle", "dx": 63, "fontSize": 10.5},
"encoding": {
"x": {"datum": 19, "type": "quantitative", "scale": {"domain": [14.85, 19.51], "nice": false, "zero": false}, "axis": null},
"y": {"field": "v", "type": "quantitative", "scale": {"domain": [1.5, 5], "nice": false, "zero": false}, "axis": {"orient": "left", "values": [1.5, 2, 2.5, 3, 3.5, 4, 4.5, 5], "format": "~g", "offset": -55, "labelPadding": 2, "ticks": false, "domain": false, "grid": false, "minExtent": 0, "labelFontSize": 9, "labelFlush": false, "labelOverlap": false, "title": "TRAQ Score", "titleFontSize": 9, "titleFontWeight": "bold", "titlePadding": 8.5}},
"text": {"field": "t"},
"fill": {"field": "pc", "type": "nominal", "scale": {"domain": ["PC25", "PC50", "PC90", "PC95"], "range": ["#e8473a", "#f0883a", "#5cb85c", "#7f5fad"]}, "legend": null}}}
]
},
{
"spacing": 0,
"resolve": {"scale": {"color": "independent", "fill": "independent"}, "legend": {"color": "independent", "fill": "independent"}},
"vconcat": [
{"width": 447, "height": 41, "data": {"name": "thead"}, "transform": [{"fold": ["age", "PC10", "PC25", "PC50", "PC75", "PC90", "PC95"], "as": ["col", "val"]}],
"layer": [
{"mark": {"type": "rect", "fill": "white", "stroke": "#111", "strokeWidth": 2}, "encoding": {"x": {"field": "col", "type": "nominal", "sort": ["age", "PC10", "PC25", "PC50", "PC75", "PC90", "PC95"], "axis": null, "scale": {"paddingInner": 0, "paddingOuter": 0}}, "y": {"field": "age", "type": "nominal", "axis": null, "scale": {"paddingInner": 0, "paddingOuter": 0}}}},
{"mark": {"type": "text", "align": "left", "baseline": "top", "dx": 3, "dy": 3, "fontSize": 9, "lineBreak": " "}, "encoding": {"x": {"field": "col", "type": "nominal", "sort": ["age", "PC10", "PC25", "PC50", "PC75", "PC90", "PC95"], "axis": null, "bandPosition": 0}, "y": {"field": "age", "type": "nominal", "axis": null, "bandPosition": 0}, "text": {"field": "val"}, "color": {"field": "col", "type": "nominal", "scale": {"domain": ["age", "PC10", "PC25", "PC50", "PC75", "PC90", "PC95"], "range": ["#222", "#222", "#e8473a", "#f29a4a", "#222", "#62bb62", "#8064b0"]}, "legend": null}}}
]},
{"width": 447, "height": 65, "data": {"name": "tbody"}, "transform": [{"filter": "datum.p === 'D'"}, {"fold": ["age", "PC10", "PC25", "PC50", "PC75", "PC90", "PC95"], "as": ["col", "val"]}],
"layer": [
{"mark": {"type": "rect", "fill": "white", "stroke": "#111", "strokeWidth": 2}, "encoding": {"x": {"field": "col", "type": "nominal", "sort": ["age", "PC10", "PC25", "PC50", "PC75", "PC90", "PC95"], "axis": null, "scale": {"paddingInner": 0, "paddingOuter": 0}}, "y": {"field": "age", "type": "nominal", "sort": ["16", "17", "18", "> 18"], "axis": null, "scale": {"paddingInner": 0, "paddingOuter": 0}}}},
{"transform": [{"filter": "datum.col === 'age' || datum.col === 'PC95'"}], "mark": {"type": "text", "align": "left", "baseline": "middle", "dx": 3, "fontSize": 9, "color": "#222"}, "encoding": {"x": {"field": "col", "type": "nominal", "sort": ["age", "PC10", "PC25", "PC50", "PC75", "PC90", "PC95"], "axis": null, "bandPosition": 0}, "y": {"field": "age", "type": "nominal", "sort": ["16", "17", "18", "> 18"], "axis": null, "bandPosition": 0.5}, "text": {"field": "val"}}},
{"transform": [{"filter": "datum.col !== 'age' && datum.col !== 'PC95'"}], "mark": {"type": "text", "align": "right", "baseline": "middle", "dx": -3, "fontSize": 9, "color": "#222"}, "encoding": {"x": {"field": "col", "type": "nominal", "sort": ["age", "PC10", "PC25", "PC50", "PC75", "PC90", "PC95"], "axis": null, "bandPosition": 1}, "y": {"field": "age", "type": "nominal", "sort": ["16", "17", "18", "> 18"], "axis": null, "bandPosition": 0.5}, "text": {"field": "val"}}}
]}
]
}
]
},
{
"spacing": 23,
"resolve": {"scale": {"color": "independent", "fill": "independent"}, "legend": {"color": "independent", "fill": "independent"}},
"vconcat": [
{
"width": 427, "height": 137,
"title": {"text": "F", "anchor": "start", "frame": "group", "dx": 10, "offset": -30, "fontSize": 24, "fontWeight": "bold", "font": "Liberation Sans", "color": "#000"},
"resolve": {"axis": {"x": "independent"}},
"layer": [
{"data": {"name": "grid"}, "transform": [{"filter": "datum.g >= 2"}], "mark": {"type": "rule", "color": "#d9d9d9", "strokeWidth": 1},
"encoding": {
"y": {"field": "g", "type": "quantitative", "scale": {"domain": [2, 5], "nice": false, "zero": false}, "axis": {"orient": "left", "values": [2, 2.5, 3, 3.5, 4, 4.5, 5], "format": "~g", "offset": -47, "labelPadding": 2, "ticks": false, "domain": false, "grid": false, "minExtent": 0, "labelFontSize": 8, "labelFlush": false, "labelOverlap": false, "labelColor": "#777", "title": "TRAQ score", "titleFontSize": 8.5, "titleFontWeight": "normal", "titleColor": "#666", "titlePadding": 6.5}},
"x": {"datum": 15.49, "type": "quantitative", "scale": {"domain": [14.91, 19.49], "nice": false, "zero": false}, "axis": null},
"x2": {"datum": 19.49}}},
{"data": {"name": "lines"}, "transform": [{"filter": "datum.p === 'F'"}, {"fold": ["PC10", "PC25", "PC50", "PC75", "PC90", "PC95"], "as": ["pc", "v"]}], "mark": {"type": "line", "strokeWidth": 2.2},
"encoding": {
"x": {"field": "age", "type": "quantitative", "scale": {"domain": [14.91, 19.49], "nice": false, "zero": false}, "axis": {"orient": "bottom", "values": [16, 17, 18, 19], "format": "d", "ticks": false, "domain": false, "grid": false, "labelFontSize": 8, "labelColor": "#777", "labelPadding": 11, "labelFlush": false, "title": "Age", "titleFontSize": 8.5, "titleFontWeight": "normal", "titleColor": "#666", "titlePadding": 9, "titleX": 243}},
"y": {"field": "v", "type": "quantitative", "scale": {"domain": [2, 5], "nice": false, "zero": false}, "axis": {"orient": "left", "values": [2, 2.5, 3, 3.5, 4, 4.5, 5], "format": "~g", "offset": -47, "labelPadding": 2, "ticks": false, "domain": false, "grid": false, "minExtent": 0, "labelFontSize": 8, "labelFlush": false, "labelOverlap": false, "labelColor": "#777", "title": "TRAQ score", "titleFontSize": 8.5, "titleFontWeight": "normal", "titleColor": "#666", "titlePadding": 6.5}},
"color": {"field": "pc", "type": "nominal", "scale": {"domain": ["PC10", "PC25", "PC50", "PC75", "PC90", "PC95"], "range": ["#cfcfcf", "#e8473a", "#f29a4a", "#cfcfcf", "#b0b0b0", "#7f5fad"]}, "legend": {"orient": "none", "legendX": 50, "legendY": 189, "direction": "horizontal", "columns": 6, "title": null, "symbolType": "stroke", "symbolSize": 625, "symbolStrokeWidth": 2.2, "labelFontSize": 8, "labelOffset": 3, "columnPadding": 7, "padding": 0, "labelColor": "#777"}}}},
{"data": {"name": "labels"}, "transform": [{"filter": "datum.p === 'F' && datum.k === 1"}], "mark": {"type": "text", "align": "left", "baseline": "middle", "dx": 18, "fontSize": 10.5},
"encoding": {
"x": {"datum": 19, "type": "quantitative", "scale": {"domain": [14.91, 19.49], "nice": false, "zero": false}, "axis": {"orient": "top", "labels": false, "ticks": false, "domain": false, "grid": false, "title": ["TRAQ; domain 5;", "Managing Daily Activities"], "titleFontSize": 12, "titleLineHeight": 20, "titleFontWeight": "normal", "titlePadding": 9, "titleX": 226, "titleColor": "#555"}},
"y": {"field": "v", "type": "quantitative", "scale": {"domain": [2, 5], "nice": false, "zero": false}, "axis": {"orient": "left", "values": [2, 2.5, 3, 3.5, 4, 4.5, 5], "format": "~g", "offset": -47, "labelPadding": 2, "ticks": false, "domain": false, "grid": false, "minExtent": 0, "labelFontSize": 8, "labelFlush": false, "labelOverlap": false, "labelColor": "#777", "title": "TRAQ score", "titleFontSize": 8.5, "titleFontWeight": "normal", "titleColor": "#666", "titlePadding": 6.5}},
"text": {"field": "t"},
"fill": {"field": "pc", "type": "nominal", "scale": {"domain": ["PC25", "PC50", "PC90", "PC95"], "range": ["#e8473a", "#f0883a", "#5cb85c", "#7f5fad"]}, "legend": null}}},
{"data": {"name": "labels"}, "transform": [{"filter": "datum.p === 'F' && datum.k === 2"}], "mark": {"type": "text", "align": "left", "baseline": "middle", "dx": 65, "fontSize": 10.5},
"encoding": {
"x": {"datum": 19, "type": "quantitative", "scale": {"domain": [14.91, 19.49], "nice": false, "zero": false}, "axis": null},
"y": {"field": "v", "type": "quantitative", "scale": {"domain": [2, 5], "nice": false, "zero": false}, "axis": {"orient": "left", "values": [2, 2.5, 3, 3.5, 4, 4.5, 5], "format": "~g", "offset": -47, "labelPadding": 2, "ticks": false, "domain": false, "grid": false, "minExtent": 0, "labelFontSize": 8, "labelFlush": false, "labelOverlap": false, "labelColor": "#777", "title": "TRAQ score", "titleFontSize": 8.5, "titleFontWeight": "normal", "titleColor": "#666", "titlePadding": 6.5}},
"text": {"field": "t"},
"fill": {"field": "pc", "type": "nominal", "scale": {"domain": ["PC25", "PC50", "PC90", "PC95"], "range": ["#e8473a", "#f0883a", "#5cb85c", "#7f5fad"]}, "legend": null}}}
]
},
{
"spacing": 0,
"resolve": {"scale": {"color": "independent", "fill": "independent"}, "legend": {"color": "independent", "fill": "independent"}},
"vconcat": [
{"width": 447, "height": 30, "data": {"name": "thead"}, "transform": [{"fold": ["age", "PC10", "PC25", "PC50", "PC75", "PC90", "PC95"], "as": ["col", "val"]}],
"layer": [
{"mark": {"type": "rect", "fill": "white", "stroke": "#111", "strokeWidth": 2}, "encoding": {"x": {"field": "col", "type": "nominal", "sort": ["age", "PC10", "PC25", "PC50", "PC75", "PC90", "PC95"], "axis": null, "scale": {"paddingInner": 0, "paddingOuter": 0}}, "y": {"field": "age", "type": "nominal", "axis": null, "scale": {"paddingInner": 0, "paddingOuter": 0}}}},
{"mark": {"type": "text", "align": "left", "baseline": "top", "dx": 3, "dy": 3, "fontSize": 8.5, "lineBreak": " "}, "encoding": {"x": {"field": "col", "type": "nominal", "sort": ["age", "PC10", "PC25", "PC50", "PC75", "PC90", "PC95"], "axis": null, "bandPosition": 0}, "y": {"field": "age", "type": "nominal", "axis": null, "bandPosition": 0}, "text": {"field": "val"}, "color": {"field": "col", "type": "nominal", "scale": {"domain": ["age", "PC10", "PC25", "PC50", "PC75", "PC90", "PC95"], "range": ["#666", "#666", "#e8473a", "#f29a4a", "#666", "#62bb62", "#8064b0"]}, "legend": null}}}
]},
{"width": 447, "height": 73, "data": {"name": "tbody"}, "transform": [{"filter": "datum.p === 'F'"}, {"fold": ["age", "PC10", "PC25", "PC50", "PC75", "PC90", "PC95"], "as": ["col", "val"]}],
"layer": [
{"mark": {"type": "rect", "fill": "white", "stroke": "#111", "strokeWidth": 2}, "encoding": {"x": {"field": "col", "type": "nominal", "sort": ["age", "PC10", "PC25", "PC50", "PC75", "PC90", "PC95"], "axis": null, "scale": {"paddingInner": 0, "paddingOuter": 0}}, "y": {"field": "age", "type": "nominal", "sort": ["16", "17", "18", "> 18"], "axis": null, "scale": {"paddingInner": 0, "paddingOuter": 0}}}},
{"transform": [{"filter": "datum.col === 'age' || datum.col === 'PC95'"}], "mark": {"type": "text", "align": "left", "baseline": "middle", "dx": 3, "fontSize": 8.5, "color": "#555"}, "encoding": {"x": {"field": "col", "type": "nominal", "sort": ["age", "PC10", "PC25", "PC50", "PC75", "PC90", "PC95"], "axis": null, "bandPosition": 0}, "y": {"field": "age", "type": "nominal", "sort": ["16", "17", "18", "> 18"], "axis": null, "bandPosition": 0.5}, "text": {"field": "val"}}},
{"transform": [{"filter": "datum.col !== 'age' && datum.col !== 'PC95'"}], "mark": {"type": "text", "align": "right", "baseline": "middle", "dx": -3, "fontSize": 8.5, "color": "#555"}, "encoding": {"x": {"field": "col", "type": "nominal", "sort": ["age", "PC10", "PC25", "PC50", "PC75", "PC90", "PC95"], "axis": null, "bandPosition": 1}, "y": {"field": "age", "type": "nominal", "sort": ["16", "17", "18", "> 18"], "axis": null, "bandPosition": 0.5}, "text": {"field": "val"}}}
]}
]
}
]
}
]
}
]
}
]
}
